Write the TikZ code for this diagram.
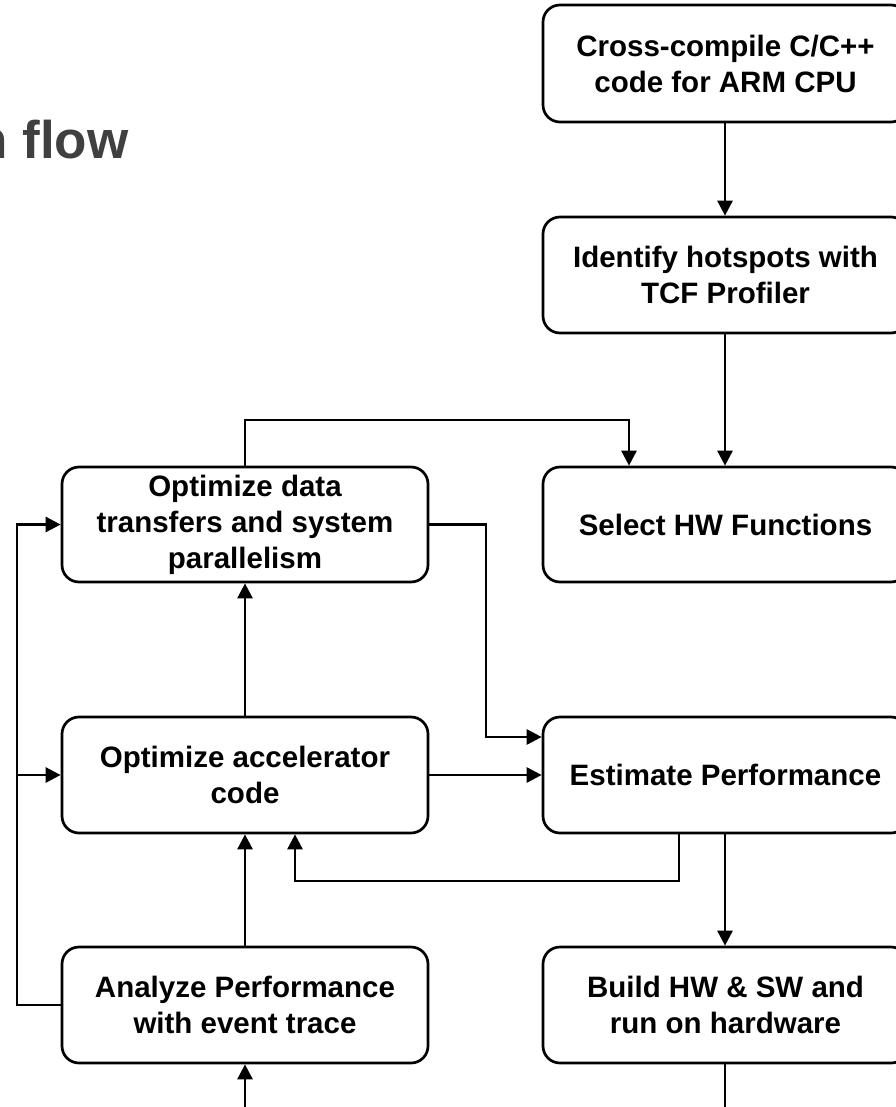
\documentclass[tikz,border=0pt]{standalone}
\usepackage{fontspec}
\setmainfont{Liberation Sans}
\usetikzlibrary{arrows.meta}
\begin{document}
\begin{tikzpicture}[x=1pt,y=-1pt,
  box/.style={draw=black, line width=2.7pt, rounded corners=17pt, align=center,
    font=\fontsize{29.5}{36}\selectfont\bfseries, inner sep=0pt},
  lbox/.style={box, minimum width=366pt, minimum height=116pt},
  rbox/.style={box, minimum width=365pt, minimum height=116pt},
  conn/.style={line width=2.7pt, draw=black},
  arr/.style={conn, -{Triangle[length=15pt,width=15pt]}}]
\useasboundingbox (0,0) rectangle (895,1107);
\node[anchor=base west, inner sep=0pt, text={rgb,255:red,64;green,64;blue,64},
  font=\fontsize{53}{60}\selectfont\bfseries] (title) at (-24.8,159) {n flow};
\node[rbox, minimum height=117pt] (cross) at (725.5,63.5) {Cross-compile C/C++\\code for ARM CPU};
\node[rbox] (ident) at (725.5,275) {Identify hotspots with\\TCF Profiler};
\node[rbox, minimum height=115pt] (select) at (725.5,524.5) {Select HW Functions};
\node[lbox, minimum height=115pt] (data) at (245,524.5) {Optimize data\\transfers and system\\parallelism};
\node[lbox] (accel) at (245,775) {Optimize accelerator\\code};
\node[rbox] (est) at (725.5,775) {Estimate Performance};
\node[lbox] (anal) at (245,1005) {Analyze Performance\\with event trace};
\node[rbox] (build) at (725.5,1005) {Build HW \& SW and\\run on hardware};
\coordinate (inA) at (245,1110);
\coordinate (outB) at (725,1110);
% right column
\draw[arr] (cross.south -| 725,0) -- (ident.north -| 725,0);
\draw[arr] (ident.south -| 725,0) -- (select.north -| 725,0);
\draw[arr] (est.south -| 725,0) -- (build.north -| 725,0);
\draw[conn] (build.south -| 725,0) -- (outB);
% data -> select
\draw[arr] (data.north) -- (245,420) -- (629,420) -- (select.north -| 629,0);
% data -> estimate
\draw[arr] (data.east) -- (486,524.5) -- (486,737) -- (est.west |- 0,737);
% accel -> estimate
\draw[arr] (accel.east) -- (est.west);
% estimate -> accel feedback
\draw[arr] (est.south -| 679,0) -- (679,881) -- (295,881) -- (accel.south -| 295,0);
% left column upward
\draw[arr] (accel.north) -- (data.south);
\draw[arr] (anal.north) -- (accel.south);
\draw[arr] (inA) -- (anal.south);
% left feedback
\draw[arr] (anal.west) -- (17,1005) -- (17,524.5) -- (data.west);
\draw[arr] (17,775) -- (accel.west);
\end{tikzpicture}
\end{document}
